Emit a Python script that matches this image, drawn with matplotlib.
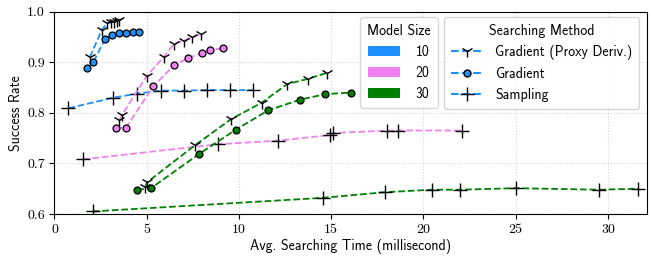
import matplotlib
matplotlib.use("Agg")
import matplotlib.pyplot as plt
from matplotlib.patches import Patch
from matplotlib.lines import Line2D

plt.rcParams['font.family'] = ['cmss10', 'DejaVu Sans']
plt.rcParams['axes.unicode_minus'] = False
plt.rcParams['font.size'] = 10

# model size -> colour
sizes = ['10', '20', '30']
colors = ['#1E90FF', '#EE82EE', '#008000']

# Gradient (Proxy Deriv.)
proxy_x = {
    '10': [1.92, 2.56, 2.86, 3.05, 3.22, 3.37, 3.51],
    '20': [3.51, 3.64, 5.00, 5.93, 6.48, 7.02, 7.44, 7.92],
    '30': [4.91, 5.03, 7.62, 9.55, 11.23, 12.62, 13.72, 14.75],
}
proxy_y = {
    '10': [0.910, 0.964, 0.977, 0.979, 0.980, 0.982, 0.983],
    '20': [0.785, 0.795, 0.873, 0.911, 0.936, 0.943, 0.949, 0.955],
    '30': [0.653, 0.663, 0.736, 0.787, 0.820, 0.857, 0.867, 0.879],
}

# Gradient
grad_x = {
    '10': [1.75, 2.10, 2.74, 3.12, 3.50, 3.88, 4.24, 4.56],
    '20': [3.32, 3.88, 5.36, 6.48, 7.22, 7.98, 8.43, 9.15],
    '30': [4.49, 5.23, 7.85, 9.84, 11.59, 13.31, 14.68, 16.05],
}
grad_y = {
    '10': [0.888, 0.900, 0.946, 0.954, 0.957, 0.958, 0.959, 0.960],
    '20': [0.770, 0.771, 0.853, 0.894, 0.908, 0.918, 0.924, 0.928],
    '30': [0.648, 0.651, 0.719, 0.767, 0.805, 0.826, 0.837, 0.840],
}

# Sampling
samp_x = {
    '10': [0.75, 3.19, 4.49, 5.76, 7.02, 8.25, 9.51, 10.74],
    '20': [1.53, 8.88, 12.13, 14.93, 15.11, 18.00, 18.63, 22.07],
    '30': [2.07, 14.57, 17.91, 20.44, 21.98, 25.00, 29.51, 31.64],
}
samp_y = {
    '10': [0.809, 0.830, 0.838, 0.844, 0.844, 0.845, 0.845, 0.845],
    '20': [0.708, 0.738, 0.745, 0.756, 0.760, 0.765, 0.765, 0.765],
    '30': [0.605, 0.632, 0.643, 0.648, 0.648, 0.651, 0.648, 0.650],
}

fig = plt.figure(figsize=(6.51, 2.6), dpi=100)
ax = fig.add_axes([0.0837, 0.177, 0.9097, 0.778])

for s, c in zip(sizes, colors):
    ax.plot(samp_x[s], samp_y[s], '--', color=c, lw=1.3, marker='+',
            ms=10, mec='black', mew=1.0)
    ax.plot(grad_x[s], grad_y[s], '--', color=c, lw=1.3, marker='o',
            ms=5, mfc=c, mec='black', mew=0.9)
    ax.plot(proxy_x[s], proxy_y[s], '--', color=c, lw=1.3, marker='1',
            ms=9, mec='black', mew=1.0)

ax.set_xlim(0, 32.1)
ax.set_ylim(0.6, 1.0)
ax.set_xticks([0, 5, 10, 15, 20, 25, 30])
ax.set_yticks([0.6, 0.7, 0.8, 0.9, 1.0])
ax.set_xticklabels([str(v) for v in [0, 5, 10, 15, 20, 25, 30]], family='cmr10')
ax.set_yticklabels(['0.6', '0.7', '0.8', '0.9', '1.0'], family='cmr10')
ax.grid(True, ls=':', color='#d5d5d5', lw=0.8)
ax.set_axisbelow(True)
ax.set_xlabel('Avg. Searching Time (millisecond)', labelpad=2)
ax.set_ylabel('Success Rate', labelpad=3)

size_handles = [Patch(facecolor=c, label=s) for s, c in zip(sizes, colors)]
leg1 = ax.legend(handles=size_handles, title='Model Size', loc='upper left',
                 bbox_to_anchor=(0.516, 0.974), borderaxespad=0,
                 fontsize=10, title_fontsize=10,
                 handlelength=2.3, handletextpad=1.1, borderpad=0.5,
                 labelspacing=0.5)
ax.add_artist(leg1)

method_handles = [
    Line2D([], [], ls='--', color=colors[0], marker='1', ms=9, mec='black', label='Gradient (Proxy Deriv.)'),
    Line2D([], [], ls='--', color=colors[0], marker='o', ms=5, mfc=colors[0], mec='black', label='Gradient'),
    Line2D([], [], ls='--', color=colors[0], marker='+', ms=10, mec='black', label='Sampling'),
]
ax.legend(handles=method_handles, title='Searching Method', loc='upper right',
          bbox_to_anchor=(0.9875, 0.974), borderaxespad=0,
          fontsize=10, title_fontsize=10,
          handlelength=2.3, handletextpad=0.9, borderpad=0.5, labelspacing=0.5)

fig.savefig('out.png', dpi=100)
